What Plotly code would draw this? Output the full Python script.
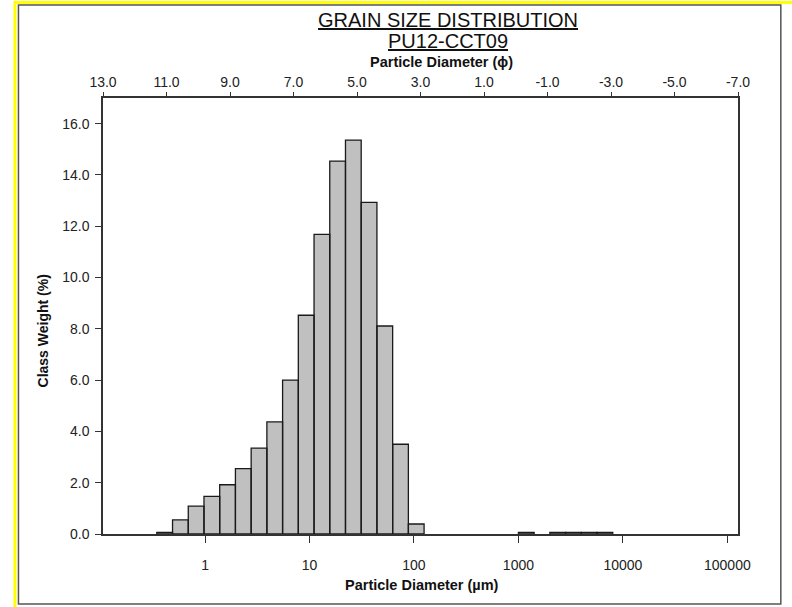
import plotly.graph_objects as go

# ---- data ----
# each class covers [phi_start, phi_start + 0.5] in phi units
phi_start = [-3.0, -2.5, -2.0, -1.5, -0.5,
             3.0, 3.5, 4.0, 4.5, 5.0, 5.5, 6.0, 6.5, 7.0, 7.5,
             8.0, 8.5, 9.0, 9.5, 10.0, 10.5, 11.0]
class_weight = [0.06, 0.06, 0.06, 0.06, 0.06,
                0.39, 3.50, 8.11, 12.93, 15.36, 14.54, 11.68, 8.53, 6.00, 4.37,
                3.35, 2.55, 1.92, 1.47, 1.09, 0.55, 0.06]
bin_width_phi = 0.5

um_ticks = [1, 10, 100, 1000, 10000, 100000]
um_labels = ["1", "10", "100", "1000", "10000", "100000"]
phi_ticks = [13, 11, 9, 7, 5, 3, 1, -1, -3, -5, -7]
phi_labels = ["13.0", "11.0", "9.0", "7.0", "5.0", "3.0", "1.0", "-1.0", "-3.0", "-5.0", "-7.0"]
y_ticks = [0, 2, 4, 6, 8, 10, 12, 14, 16]
y_labels = ["0.0", "2.0", "4.0", "6.0", "8.0", "10.0", "12.0", "14.0", "16.0"]

title1 = "GRAIN SIZE DISTRIBUTION"
title2 = "PU12-CCT09"
top_title = "Particle Diameter (ϕ)"
x_title = "Particle Diameter (µm)"
y_title = "Class Weight (%)"

FONT = "Liberation Sans, Arial, sans-serif"

def phi_to_um(p):
    return 1000.0 * 2 ** (-p)

# build bar polygons (log x axis)
xs, ys = [], []
for p, w in zip(phi_start, class_weight):
    left = phi_to_um(p + bin_width_phi)
    right = phi_to_um(p)
    xs += [left, left, right, right, left, None]
    ys += [0, w, w, 0, 0, None]

fig = go.Figure()
fig.add_trace(go.Scatter(
    x=xs, y=ys, mode="lines", fill="toself",
    fillcolor="#C0C0C0", line=dict(color="#1a1a1a", width=1.3),
    hoverinfo="skip", showlegend=False))
# invisible trace to activate the top phi axis
fig.add_trace(go.Scatter(x=[phi_ticks[0], phi_ticks[-1]], y=[0, 0], xaxis="x2",
                         mode="markers", marker=dict(opacity=0), hoverinfo="skip",
                         showlegend=False))

# page geometry (pixels)
W, H = 792, 607
L, R, T, B = 103, 737.7, 98, 534
pw, ph = R - L, B - T

def fx(px):
    return (px - L) / pw

def fy(py):
    return (B - py) / ph

fig.update_layout(
    width=W, height=H,
    margin=dict(l=L, r=W - R, t=T, b=H - B, pad=0),
    paper_bgcolor="white", plot_bgcolor="white",
    font=dict(family=FONT, color="#222", size=14),
    xaxis=dict(type="log", range=[-0.977, 5.102],
               tickvals=um_ticks, ticktext=um_labels,
               ticks="outside", ticklen=7, tickwidth=1.3, tickcolor="#333",
               showline=True, linecolor="#333", linewidth=1.5,
               showgrid=False, zeroline=False, ticklabelstandoff=10,
               tickfont=dict(size=14, color="#222")),
    xaxis2=dict(overlaying="x", side="top", anchor="y",
                range=[13, -7], tickvals=phi_ticks, ticktext=phi_labels,
                ticks="outside", ticklen=4, tickwidth=1.3, tickcolor="#333",
                showline=True, linecolor="#333", linewidth=1.5,
                showgrid=False, zeroline=False,
                tickfont=dict(size=14, color="#222")),
    yaxis=dict(range=[0, 17], tickvals=y_ticks, ticktext=y_labels,
               ticks="outside", ticklen=6, tickwidth=1.3, tickcolor="#333",
               showline=True, mirror=True, linecolor="#333", linewidth=1.5,
               showgrid=False, zeroline=False,
               tickfont=dict(size=14, color="#222"), ticklabelstandoff=3),
    showlegend=False,
)

fig.add_annotation(text="<u>" + title1 + "</u>", xref="paper", yref="paper",
                   x=fx(448), y=fy(20), xanchor="center", yanchor="middle",
                   showarrow=False, font=dict(size=20, color="#111", family=FONT))
fig.add_annotation(text="<u>" + title2 + "</u>", xref="paper", yref="paper",
                   x=fx(448), y=fy(41), xanchor="center", yanchor="middle",
                   showarrow=False, font=dict(size=20, color="#111", family=FONT))
fig.add_annotation(text="<b>" + top_title + "</b>", xref="paper", yref="paper",
                   x=fx(441), y=fy(61.5), xanchor="center", yanchor="middle",
                   showarrow=False, font=dict(size=14.5, color="#111", family=FONT))
fig.add_annotation(text="<b>" + x_title + "</b>", xref="paper", yref="paper",
                   x=fx(421.5), y=fy(585), xanchor="center", yanchor="middle",
                   showarrow=False, font=dict(size=14.5, color="#111", family=FONT))
fig.add_annotation(text="<b>" + y_title + "</b>", xref="paper", yref="paper",
                   x=fx(43.5), y=fy(331), xanchor="center", yanchor="middle",
                   textangle=-90, showarrow=False,
                   font=dict(size=14, color="#111", family=FONT))

# outer frames
fig.add_shape(type="rect", xref="paper", yref="paper",
              x0=fx(15), y0=fy(640), x1=fx(820), y1=fy(2.5),
              line=dict(color="#FFFF00", width=3), layer="below")
fig.add_shape(type="rect", xref="paper", yref="paper",
              x0=fx(18.5), y0=fy(604), x1=fx(780.5), y1=fy(5),
              line=dict(color="#555", width=1.5), layer="below")

fig.write_html("out.html", config={"displayModeBar": False})
